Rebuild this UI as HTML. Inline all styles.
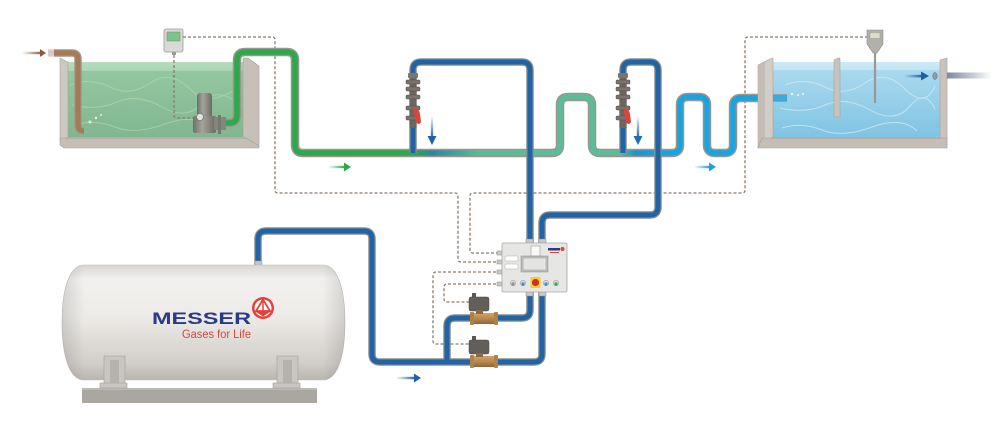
<!DOCTYPE html>
<html><head><meta charset="utf-8"><style>html,body{margin:0;padding:0;background:#fff;}svg{display:block}</style></head><body>
<svg xmlns="http://www.w3.org/2000/svg" width="1000" height="434" viewBox="0 0 1000 434">
<defs>
<linearGradient id="main" gradientUnits="userSpaceOnUse" x1="0" y1="0" x2="1000" y2="0">
<stop offset="0" stop-color="#2ea84a"/>
<stop offset="0.413" stop-color="#2ea84a"/>
<stop offset="0.432" stop-color="#2f86a0"/>
<stop offset="0.48" stop-color="#5dbc98"/>
<stop offset="0.62" stop-color="#5dbc98"/>
<stop offset="0.635" stop-color="#2590c8"/>
<stop offset="0.66" stop-color="#1ba3dd"/>
<stop offset="1" stop-color="#1ba3dd"/>
</linearGradient>
<linearGradient id="gwater" x1="0" y1="0" x2="0" y2="1">
<stop offset="0" stop-color="#a9d6b4"/><stop offset="0.12" stop-color="#93c7a0"/><stop offset="1" stop-color="#80b690"/>
</linearGradient>
<linearGradient id="bwater" x1="0" y1="0" x2="0" y2="1">
<stop offset="0" stop-color="#c4e6f3"/><stop offset="0.12" stop-color="#a9d9ee"/><stop offset="1" stop-color="#7fc3e2"/>
</linearGradient>
<linearGradient id="tankv" x1="0" y1="0" x2="0" y2="1">
<stop offset="0" stop-color="#d9d6d2"/><stop offset="0.12" stop-color="#f2f1ef"/><stop offset="0.45" stop-color="#edebe8"/><stop offset="0.85" stop-color="#d2cec9"/><stop offset="1" stop-color="#b9b5af"/>
</linearGradient>
<linearGradient id="tankh" x1="0" y1="0" x2="1" y2="0">
<stop offset="0" stop-color="#000" stop-opacity="0.12"/><stop offset="0.08" stop-color="#000" stop-opacity="0"/><stop offset="0.92" stop-color="#000" stop-opacity="0"/><stop offset="1" stop-color="#000" stop-opacity="0.12"/>
</linearGradient>
<linearGradient id="fadeG" x1="0" y1="0" x2="1" y2="0"><stop offset="0" stop-color="#2ea84a" stop-opacity="0"/><stop offset="1" stop-color="#2ea84a"/></linearGradient>
<linearGradient id="fadeLB" x1="0" y1="0" x2="1" y2="0"><stop offset="0" stop-color="#1ba3dd" stop-opacity="0"/><stop offset="1" stop-color="#1ba3dd"/></linearGradient>
<linearGradient id="fadeDB" x1="0" y1="0" x2="1" y2="0"><stop offset="0" stop-color="#2260a8" stop-opacity="0"/><stop offset="1" stop-color="#2260a8"/></linearGradient>
<linearGradient id="fadeBr" x1="0" y1="0" x2="1" y2="0"><stop offset="0" stop-color="#8a5a3a" stop-opacity="0"/><stop offset="1" stop-color="#8a5a3a"/></linearGradient>
<linearGradient id="fadeDown" x1="0" y1="0" x2="0" y2="1"><stop offset="0" stop-color="#2260a8" stop-opacity="0"/><stop offset="1" stop-color="#2260a8"/></linearGradient>
<linearGradient id="outP" x1="0" y1="0" x2="1" y2="0"><stop offset="0" stop-color="#7888a0"/><stop offset="1" stop-color="#7888a0" stop-opacity="0"/></linearGradient>
<linearGradient id="brownIn" x1="0" y1="0" x2="1" y2="0"><stop offset="0" stop-color="#9a7352" stop-opacity="0"/><stop offset="1" stop-color="#9a7352"/></linearGradient>
<linearGradient id="brass" x1="0" y1="0" x2="0" y2="1"><stop offset="0" stop-color="#d2a46a"/><stop offset="0.5" stop-color="#b98a50"/><stop offset="1" stop-color="#8e6535"/></linearGradient>
<linearGradient id="pumpg" x1="0" y1="0" x2="1" y2="0"><stop offset="0" stop-color="#6f6f68"/><stop offset="0.4" stop-color="#a4a49c"/><stop offset="1" stop-color="#6a6a63"/></linearGradient>
</defs>

<!-- ===== Left tank ===== -->
<rect x="66" y="62" width="180" height="77" fill="url(#gwater)"/>
<path d="M70,85 q20,-8 40,2 t40,-4 t40,6 t50,-3 M72,105 q25,6 45,-3 t45,5 t40,-4 t40,3 M75,125 q20,-6 40,2 t50,-3 t45,4" stroke="#b9dcb2" stroke-width="1" fill="none" opacity="0.6"/>
<rect x="66" y="62" width="180" height="9" fill="#c2e3c8" opacity="0.5"/>
<!-- walls -->
<polygon points="60,58 68,62 68,140 60,140" fill="#cdc8c1" stroke="#a9a39c" stroke-width="0.6"/>
<polygon points="243,58 248,58 259,66 259,146 243,146" fill="#c6c0b9" stroke="#a49e97" stroke-width="0.6"/>
<polygon points="60,138 246,138 259,146 259,148 64,148 60,145" fill="#c4beb7" stroke="#a49e97" stroke-width="0.6"/>
<rect x="66" y="137" width="180" height="2" fill="#b5afa8"/>
<!-- brown inlet -->
<rect x="22" y="51.8" width="20" height="2.4" fill="url(#fadeBr)"/>
<polygon points="40,49 46,53 40,57" fill="#8a5a3a"/>
<path d="M48,53 L72,53 Q78,53 78,59 L78,125 Q78,131 84,131" fill="none" stroke="#9f9790" stroke-width="7.5"/>
<path d="M48,53 L72,53 Q78,53 78,59 L78,125 Q78,131 84,131" fill="none" stroke="#a57a55" stroke-width="5"/>
<rect x="46" y="49" width="8" height="8" fill="#fff" opacity="0.6"/>
<circle cx="90" cy="122" r="1.5" fill="#e6f2e8"/><circle cx="96" cy="118" r="1.2" fill="#e6f2e8"/><circle cx="101" cy="115" r="1" fill="#e6f2e8"/>
<!-- left sensor -->
<rect x="164" y="29" width="19" height="23" rx="2" fill="#d9d9d6" stroke="#9a9a96" stroke-width="0.8"/>
<rect x="167" y="32" width="13" height="9" fill="#7cc48a" stroke="#6b8f70" stroke-width="0.5"/>
<rect x="172" y="52" width="4" height="3" fill="#9a9a96"/>
<!-- pump -->
<rect x="197" y="93" width="15" height="27" rx="3" fill="url(#pumpg)"/>
<rect x="193" y="116" width="23" height="17" rx="2" fill="url(#pumpg)"/>
<rect x="214" y="117" width="12" height="13" fill="#85857e"/>
<rect x="218" y="115" width="3" height="19" fill="#77776f"/>
<circle cx="200" cy="117" r="3.5" fill="#e4e2dc" stroke="#666" stroke-width="0.6"/>

<!-- ===== Dashed lines ===== -->
<g fill="none" stroke="#8b7b6c" stroke-width="1.3" stroke-dasharray="3,2">
<path d="M183,37 L272,37 Q275,37 275,40 L275,190 Q275,193 278,193 L455,193 Q458,193 458,196 L458,259 Q458,262 461,262 L501,262"/>
<path d="M868,37 L748,37 Q745,37 745,40 L745,190 Q745,193 742,193 L473,193 Q470,193 470,196 L470,250 Q470,253 473,253 L501,253"/>
<path d="M174,55 L174,115 Q174,118 177,118 L197,118"/>
<path d="M501,272 L436,272 Q433,272 433,275 L433,341 Q433,344 436,344 L470,344"/>
<path d="M501,284 L447,284 Q444,284 444,287 L444,299 Q444,302 447,302 L470,302"/>
</g>

<!-- ===== Main process pipe ===== -->
<path d="M226,123 L229,123 Q237,123 237,115 L237,60 Q237,52 245,52 L287,52 Q295,52 295,60 L295,145 Q295,153 303,153 L552,153 Q560,153 560,145 L560,105 Q560,97 568,97 L584,97 Q592,97 592,105 L592,145 Q592,153 600,153 L672,153 Q680,153 680,145 L680,105 Q680,97 688,97 L699,97 Q707,97 707,105 L707,145 Q707,153 715,153 L725,153 Q733,153 733,145 L733,106 Q733,98 741,98 L760,98" fill="none" stroke="#9a958f" stroke-width="8.5"/>
<path d="M226,123 L229,123 Q237,123 237,115 L237,60 Q237,52 245,52 L287,52 Q295,52 295,60 L295,145 Q295,153 303,153 L552,153 Q560,153 560,145 L560,105 Q560,97 568,97 L584,97 Q592,97 592,105 L592,145 Q592,153 600,153 L672,153 Q680,153 680,145 L680,105 Q680,97 688,97 L699,97 Q707,97 707,105 L707,145 Q707,153 715,153 L725,153 Q733,153 733,145 L733,106 Q733,98 741,98 L760,98" fill="none" stroke="url(#main)" stroke-width="5.5"/>

<!-- ===== Blue gas pipes ===== -->
<g fill="none" stroke="#8e8e8c" stroke-width="7.5">
<path d="M413,153 L413,70 Q413,62 421,62 L522,62 Q530,62 530,70 L530,243"/>
<path d="M623,153 L623,70 Q623,62 631,62 L650,62 Q658,62 658,70 L658,207 Q658,215 650,215 L550,215 Q542,215 542,223 L542,243"/>
<path d="M258,265 L258,239 Q258,231 266,231 L364,231 Q372,231 372,239 L372,354 Q372,362 380,362 L534,362 Q542,362 542,354 L542,292"/>
<path d="M447,362 L447,326 Q447,318 455,318 L522,318 Q530,318 530,310 L530,292"/>
</g>
<g fill="none" stroke="#1f64a7" stroke-width="5">
<path d="M413,153 L413,70 Q413,62 421,62 L522,62 Q530,62 530,70 L530,243"/>
<path d="M623,153 L623,70 Q623,62 631,62 L650,62 Q658,62 658,70 L658,207 Q658,215 650,215 L550,215 Q542,215 542,223 L542,243"/>
<path d="M258,265 L258,239 Q258,231 266,231 L364,231 Q372,231 372,239 L372,354 Q372,362 380,362 L534,362 Q542,362 542,354 L542,292"/>
<path d="M447,362 L447,326 Q447,318 455,318 L522,318 Q530,318 530,310 L530,292"/>
</g>

<!-- injection valves -->
<g id="v1">
<rect x="409.5" y="74" width="7" height="54" fill="#6d655f"/>
<rect x="408" y="73" width="10" height="5" rx="1" fill="#7c746d"/>
<rect x="406" y="80" width="14" height="4" rx="1" fill="#7a726b" stroke="#544d48" stroke-width="0.5"/>
<rect x="406" y="87" width="14" height="4" rx="1" fill="#7a726b" stroke="#544d48" stroke-width="0.5"/>
<rect x="406" y="95" width="14" height="4" rx="1" fill="#7a726b" stroke="#544d48" stroke-width="0.5"/>
<rect x="406" y="106" width="14" height="4" rx="1" fill="#7a726b" stroke="#544d48" stroke-width="0.5"/>
<rect x="406" y="116" width="14" height="4" rx="1" fill="#7a726b" stroke="#544d48" stroke-width="0.5"/>
<path d="M413,108 Q419,108 420,114 L421,122 Q419,126 416,122 Z" fill="#d9443f"/>
</g>
<g transform="translate(210,0)">
<rect x="409.5" y="74" width="7" height="54" fill="#6d655f"/>
<rect x="408" y="73" width="10" height="5" rx="1" fill="#7c746d"/>
<rect x="406" y="80" width="14" height="4" rx="1" fill="#7a726b" stroke="#544d48" stroke-width="0.5"/>
<rect x="406" y="87" width="14" height="4" rx="1" fill="#7a726b" stroke="#544d48" stroke-width="0.5"/>
<rect x="406" y="95" width="14" height="4" rx="1" fill="#7a726b" stroke="#544d48" stroke-width="0.5"/>
<rect x="406" y="106" width="14" height="4" rx="1" fill="#7a726b" stroke="#544d48" stroke-width="0.5"/>
<rect x="406" y="116" width="14" height="4" rx="1" fill="#7a726b" stroke="#544d48" stroke-width="0.5"/>
<path d="M413,108 Q419,108 420,114 L421,122 Q419,126 416,122 Z" fill="#d9443f"/>
</g>
<!-- down arrows -->
<rect x="430.8" y="116" width="2.4" height="22" fill="url(#fadeDown)"/>
<polygon points="427.5,136 436.5,136 432,145" fill="#2260a8"/>
<rect x="636.8" y="116" width="2.4" height="22" fill="url(#fadeDown)"/>
<polygon points="633.5,136 642.5,136 638,145" fill="#1f6eb0"/>

<!-- flow arrows -->
<rect x="328" y="165.8" width="17" height="2.4" fill="url(#fadeG)"/>
<polygon points="344,162.5 351,167 344,171.5" fill="#2ea84a"/>
<rect x="694" y="165.8" width="16" height="2.4" fill="url(#fadeLB)"/>
<polygon points="709,162.5 716,167 709,171.5" fill="#1ba3dd"/>
<rect x="396" y="376.8" width="19" height="2.4" fill="url(#fadeDB)"/>
<polygon points="414,373.5 421,378 414,382.5" fill="#2260a8"/>

<!-- ===== Right tank ===== -->
<rect x="771" y="62" width="171" height="77" fill="url(#bwater)"/>
<path d="M785,85 q20,-8 40,2 t40,-4 t40,6 t30,-3 M780,108 q25,6 45,-3 t45,5 t40,-4 t25,3 M782,128 q20,-6 40,2 t50,-3 t45,4" stroke="#d6eef7" stroke-width="1" fill="none" opacity="0.7"/>
<rect x="771" y="62" width="171" height="8" fill="#d6eff8" opacity="0.5"/>
<polygon points="758,65 772,58 773,58 773,140 758,148" fill="#d2cdc6" stroke="#a8a29b" stroke-width="0.6"/>
<polygon points="758,65 765,62 765,146 758,148" fill="#c3bdb6"/>
<polygon points="940,60 947,58 947,146 940,146" fill="#c9c3bc" stroke="#a8a29b" stroke-width="0.6"/>
<polygon points="762,138 947,138 947,148 758,148" fill="#c4beb7" stroke="#a49e97" stroke-width="0.6"/>
<rect x="771" y="137" width="170" height="2" fill="#b3ada6"/>
<!-- pipe into tank -->
<rect x="773" y="95" width="14" height="6" fill="#1ba3dd" opacity="0.8"/>
<rect x="773" y="94" width="14" height="1.2" fill="#8e8e8c" opacity="0.7"/>
<rect x="773" y="100.8" width="14" height="1.2" fill="#8e8e8c" opacity="0.7"/>
<circle cx="792" cy="94" r="1.2" fill="#eef8fc"/><circle cx="798" cy="95" r="1" fill="#eef8fc"/><circle cx="803" cy="94" r="1" fill="#eef8fc"/>
<!-- baffle -->
<polygon points="834,60 838,58 840,58 840,117 834,117" fill="#c7c3bd" stroke="#9f9a94" stroke-width="0.5"/>
<!-- sensor probe -->
<line x1="875" y1="52" x2="875" y2="103" stroke="#9a9894" stroke-width="2.2"/>
<path d="M867,30 L883,30 L883,44 L877,53 L873,53 L867,44 Z" fill="#b2b0aa" stroke="#8c8a85" stroke-width="0.6"/>
<rect x="870" y="32.5" width="10" height="6" fill="#dcdccb" stroke="#8c8a85" stroke-width="0.4"/>
<!-- outlet -->
<rect x="947" y="72.5" width="45" height="6" fill="url(#outP)"/>
<ellipse cx="935" cy="76" rx="2.2" ry="3.5" fill="#8e9aa8" stroke="#666" stroke-width="0.5"/>
<rect x="904" y="74.8" width="19" height="2.6" fill="url(#fadeDB)"/>
<polygon points="921,71.5 929,76 921,80.5" fill="#1f5fa0"/>

<!-- ===== Control box ===== -->
<g fill="#c9c9c7" stroke="#8a8a88" stroke-width="0.5">
<rect x="526" y="239" width="7" height="4"/><rect x="539" y="239" width="7" height="4"/>
<rect x="526" y="292" width="7" height="4"/><rect x="539" y="292" width="7" height="4"/>
<rect x="497" y="251" width="5" height="4"/><rect x="497" y="260" width="5" height="4"/>
<rect x="497" y="270" width="5" height="4"/><rect x="497" y="282" width="5" height="4"/>
</g>
<rect x="502" y="243" width="65" height="49" rx="1.5" fill="#e6e6e4" stroke="#a9a9a6" stroke-width="0.8"/>
<rect x="531" y="246" width="9" height="10" fill="#f8f8f8" stroke="#9c9c9a" stroke-width="0.6"/>
<rect x="505" y="256" width="13" height="5" rx="1" fill="#fff" stroke="#aaa" stroke-width="0.5"/>
<rect x="505" y="264" width="13" height="5" rx="1" fill="#fff" stroke="#aaa" stroke-width="0.5"/>
<rect x="521" y="256" width="27" height="16" fill="#b9b9b7" stroke="#8d8d8b" stroke-width="0.5"/>
<rect x="523.5" y="258.5" width="22" height="11" fill="#e4e4e2"/>
<rect x="548" y="248" width="12" height="2.5" fill="#2d3a86"/>
<circle cx="562.5" cy="249" r="2" fill="#d9443f"/>
<rect x="550" y="252" width="9" height="1" fill="#d9443f"/>
<circle cx="513" cy="283" r="2.8" fill="#d8d8d6" stroke="#999" stroke-width="0.5"/><circle cx="513" cy="284" r="1.6" fill="#9a8f88"/>
<circle cx="523" cy="283" r="2.8" fill="#d8d8d6" stroke="#999" stroke-width="0.5"/><circle cx="523" cy="284" r="1.6" fill="#3d8fd0"/>
<rect x="530.5" y="277" width="10" height="11" fill="#f2d21f"/>
<circle cx="535.5" cy="282.5" r="3.6" fill="#d92a25"/>
<circle cx="546" cy="283" r="2.8" fill="#d8d8d6" stroke="#999" stroke-width="0.5"/><circle cx="546" cy="284" r="1.6" fill="#3d8fd0"/>
<circle cx="556" cy="283" r="2.8" fill="#d8d8d6" stroke="#999" stroke-width="0.5"/><circle cx="556" cy="284" r="1.6" fill="#3aa84e"/>

<!-- solenoid valves -->
<g>
<rect x="472" y="313" width="24" height="11" fill="url(#brass)"/>
<rect x="470" y="312" width="4" height="13" rx="1" fill="#b08246"/>
<rect x="494" y="312" width="4" height="13" rx="1" fill="#b08246"/>
<rect x="472" y="293" width="4" height="5" fill="#5a5753"/>
<rect x="469" y="297" width="20" height="14" rx="2" fill="#625e5a" stroke="#4a4744" stroke-width="0.5"/>
<rect x="476" y="310" width="7" height="4" fill="#8a6a40"/>
</g>
<g transform="translate(0,43)">
<rect x="472" y="313" width="24" height="11" fill="url(#brass)"/>
<rect x="470" y="312" width="4" height="13" rx="1" fill="#b08246"/>
<rect x="494" y="312" width="4" height="13" rx="1" fill="#b08246"/>
<rect x="472" y="293" width="4" height="5" fill="#5a5753"/>
<rect x="469" y="297" width="20" height="14" rx="2" fill="#625e5a" stroke="#4a4744" stroke-width="0.5"/>
<rect x="476" y="310" width="7" height="4" fill="#8a6a40"/>
</g>

<!-- ===== Gas tank ===== -->
<rect x="82" y="388" width="235" height="15" fill="#aaa6a0"/>
<rect x="82" y="388" width="235" height="2" fill="#bdb9b4"/>
<rect x="255" y="261" width="7" height="5" fill="#c6c4c0" stroke="#999" stroke-width="0.5"/>
<path d="M84,265 L323,265 C338,265 345,290 345,322 C345,355 338,380 323,380 L84,380 C69,380 62,355 62,322 C62,290 69,265 84,265 Z" fill="url(#tankv)" stroke="#c2beb8" stroke-width="0.6"/>
<path d="M84,265 L323,265 C338,265 345,290 345,322 C345,355 338,380 323,380 L84,380 C69,380 62,355 62,322 C62,290 69,265 84,265 Z" fill="url(#tankh)"/>
<!-- feet -->
<g fill="#c8c6c1" stroke="#a09d98" stroke-width="0.6">
<path d="M104,356 L125,356 L125,384 L104,384 Z"/>
<rect x="100" y="383" width="27" height="5"/>
<path d="M277,356 L298,356 L298,384 L277,384 Z"/>
<rect x="273" y="383" width="27" height="5"/>
</g>
<rect x="110" y="360" width="9" height="23" fill="#b5b2ad"/>
<rect x="283" y="360" width="9" height="23" fill="#b5b2ad"/>
<!-- logo -->
<text x="152" y="324" font-family="Liberation Sans, sans-serif" font-weight="bold" font-size="17" fill="#2b3a86" textLength="99" lengthAdjust="spacingAndGlyphs">MESSER</text>
<circle cx="263" cy="308" r="11" fill="#e2413a"/>
<circle cx="263" cy="308" r="8.5" fill="#fff"/>
<path d="M263,299.5 L256,311 L270,311 Z" fill="none" stroke="#e2413a" stroke-width="1.8"/>
<path d="M254.5,311 L271.5,311 L263,316.5 Z" fill="#e2413a"/>
<line x1="263" y1="299.5" x2="263" y2="311" stroke="#e2413a" stroke-width="1.5"/>
<text x="182" y="338" font-family="Liberation Sans, sans-serif" font-size="12" fill="#d9453f" textLength="69" lengthAdjust="spacingAndGlyphs">Gases for Life</text>
</svg>
</body></html>
